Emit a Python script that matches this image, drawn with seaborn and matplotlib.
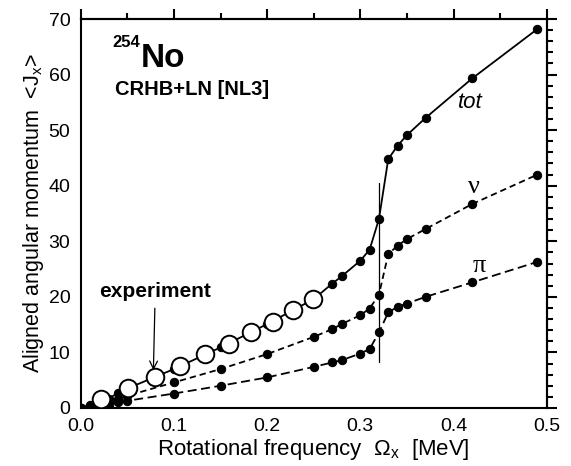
import matplotlib
matplotlib.use("Agg")
import matplotlib.pyplot as plt
import seaborn as sns
import pandas as pd
import numpy as np

# ---- data ----
omega_theo = [0.0, 0.01, 0.03, 0.04, 0.05, 0.10, 0.15, 0.20, 0.25, 0.27, 0.28,
              0.30, 0.31, 0.32, 0.33, 0.34, 0.35, 0.37, 0.42, 0.49]
j_tot = [0.0, 0.6, 1.7, 2.7, 3.5, 7.0, 10.9, 15.1, 19.6, 22.4, 23.7,
         26.5, 28.5, 34.0, 44.8, 47.2, 49.1, 52.2, 59.3, 68.2]
j_nu = [0.0, 0.4, 1.1, 1.7, 2.2, 4.6, 7.0, 9.7, 12.8, 14.2, 15.1,
        16.7, 17.9, 20.4, 27.7, 29.2, 30.4, 32.2, 36.7, 42.0]
j_pi = [0.0, 0.2, 0.6, 1.0, 1.3, 2.6, 4.0, 5.5, 7.4, 8.2, 8.6,
        9.8, 10.6, 13.6, 17.2, 18.2, 18.8, 20.0, 22.6, 26.3]
omega_exp = [0.0215, 0.0504, 0.0794, 0.1065, 0.1334, 0.1595, 0.1827, 0.206, 0.228, 0.249]
j_exp = [1.6, 3.6, 5.5, 7.6, 9.7, 11.6, 13.6, 15.5, 17.6, 19.6]
x_ticks = [0.0, 0.1, 0.2, 0.3, 0.4, 0.5]
x_tick_labels = ["0.0", "0.1", "0.2", "0.3", "0.4", "0.5"]
y_ticks = [0, 10, 20, 30, 40, 50, 60, 70]

sns.set_style("white")
plt.rcParams["font.family"] = ["Liberation Sans", "DejaVu Sans"]
plt.rcParams["mathtext.fontset"] = "custom"
plt.rcParams["mathtext.rm"] = "Liberation Sans"
plt.rcParams["mathtext.it"] = "Liberation Sans:italic"
plt.rcParams["mathtext.bf"] = "Liberation Sans:bold"
for k in ["text.color", "axes.labelcolor", "xtick.color", "ytick.color", "axes.edgecolor"]:
    plt.rcParams[k] = "black"

fig = plt.figure(figsize=(5.71, 4.66), dpi=100)
ax = fig.add_axes([80.7 / 571, 1 - 408 / 466, (546.7 - 80.7) / 571, (408 - 19) / 466])

df = pd.DataFrame({"omega": omega_theo, "tot": j_tot, "nu": j_nu, "pi": j_pi})
dexp = pd.DataFrame({"omega": omega_exp, "J": j_exp})

lw = 1.3
sns.lineplot(data=df, x="omega", y="pi", ax=ax, color="black", lw=lw,
             marker="o", markersize=6, markeredgecolor="black",
             linestyle=(0, (5, 2.5)), zorder=3)
sns.lineplot(data=df, x="omega", y="nu", ax=ax, color="black", lw=lw,
             marker="o", markersize=6, markeredgecolor="black",
             linestyle=(0, (3.5, 2.2)), zorder=3)
sns.lineplot(data=df, x="omega", y="tot", ax=ax, color="black", lw=lw,
             marker="o", markersize=6, markeredgecolor="black", zorder=3)
sns.scatterplot(data=dexp, x="omega", y="J", ax=ax, s=160, facecolor="white",
                edgecolor="black", linewidth=1.4, zorder=5)

# crossing line
ax.plot([0.32, 0.32], [8.2, 40.5], color="black", lw=0.9, zorder=2)

ax.set_xlim(0, 0.5)
ax.set_ylim(0, 70)
ax.set_xticks(x_ticks)
ax.set_xticklabels(x_tick_labels)
ax.set_yticks(y_ticks)
ax.set_xticks(np.arange(0.05, 0.5, 0.1), minor=True)
ax.set_yticks([v for v in range(0, 71, 2) if v % 10], minor=True)

for s in ax.spines.values():
    s.set_linewidth(1.5)
    s.set_color("black")

ax.tick_params(which="major", direction="inout", length=11, width=1.5,
               labelsize=14, colors="black")
ax.tick_params(which="minor", direction="in", length=5, width=1.5)
ax.tick_params(axis="x", which="major", pad=2)
ax.tick_params(axis="y", which="major", pad=2)

secx = ax.secondary_xaxis("top")
secx.set_xticks(x_ticks)
secx.set_xticks(np.arange(0.05, 0.5, 0.1), minor=True)
secx.tick_params(which="major", direction="out", length=7, width=1.5, labeltop=False)
secx.tick_params(which="minor", direction="out", length=4, width=1.5)
secx.spines["top"].set_linewidth(1.5)

secy = ax.secondary_yaxis("right")
secy.set_yticks(y_ticks)
secy.set_yticks([v for v in range(0, 71, 2) if v % 10], minor=True)
secy.tick_params(which="major", direction="out", length=7, width=1.5, labelright=False)
secy.tick_params(which="minor", direction="out", length=4, width=1.5)
secy.spines["right"].set_linewidth(1.5)

ax.set_xlabel(r"Rotational frequency  $\Omega_{\rm x}$  [MeV]", fontsize=16, labelpad=1)
ax.set_ylabel(r"Aligned angular momentum  <J$_{\rm x}$>", fontsize=15.5, labelpad=2)

# texts
ax.text(0.0648, 61.4, "No", fontsize=24, fontweight="bold", ha="left", va="baseline")
ax.text(0.034, 65.0, "254", fontsize=12, fontweight="bold", ha="left", va="baseline")
ax.text(0.0369, 56.3, "CRHB+LN [NL3]", fontsize=14.5, fontweight="bold", ha="left", va="baseline")
ax.text(0.418, 54.9, "tot", fontsize=16, style="italic", ha="center", va="center")
ax.text(0.422, 39.8, "ν", fontsize=19, family=["Liberation Serif", "DejaVu Serif"],
        ha="center", va="center")
ax.text(0.428, 25.6, "π", fontsize=19, family=["Liberation Serif", "DejaVu Serif"],
        ha="center", va="center")
ax.annotate("experiment", xy=(0.078, 6.8), xytext=(0.08, 19.3),
            fontsize=15, fontweight="bold", ha="center", va="bottom",
            arrowprops=dict(arrowstyle="->", lw=0.9, color="black",
                            shrinkA=3, shrinkB=0, mutation_scale=14))

ax.set_facecolor("white")
fig.patch.set_facecolor("white")
fig.savefig("out.png", dpi=100)
